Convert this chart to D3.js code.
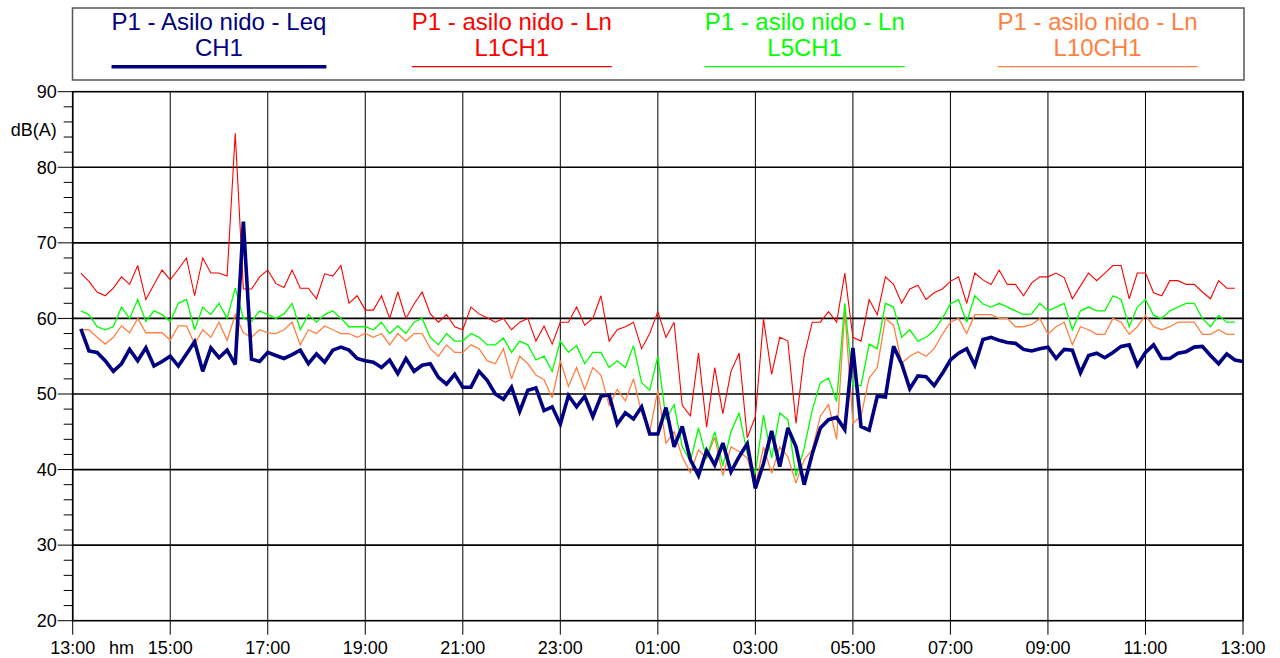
<!DOCTYPE html>
<html>
<head>
<meta charset="utf-8">
<script src="https://cdn.jsdelivr.net/npm/d3@7"></script>
<style>
  html, body { margin: 0; padding: 0; background: #fff; }
  svg { display: block; font-family: "Liberation Sans", Arial, sans-serif; }
</style>
</head>
<body>
<svg id="chart" width="1280" height="658"></svg>
<script>
// ---------- DATA ----------
const times = [
  "13:10","13:20","13:30","13:40","13:50",
  "14:00","14:10","14:20","14:30","14:40","14:50",
  "15:00","15:10","15:20","15:30","15:40","15:50",
  "16:00","16:10","16:20","16:30","16:40","16:50",
  "17:00","17:10","17:20","17:30","17:40","17:50",
  "18:00","18:10","18:20","18:30","18:40","18:50",
  "19:00","19:10","19:20","19:30","19:40","19:50",
  "20:00","20:10","20:20","20:30","20:40","20:50",
  "21:00","21:10","21:20","21:30","21:40","21:50",
  "22:00","22:10","22:20","22:30","22:40","22:50",
  "23:00","23:10","23:20","23:30","23:40","23:50",
  "00:00","00:10","00:20","00:30","00:40","00:50",
  "01:00","01:10","01:20","01:30","01:40","01:50",
  "02:00","02:10","02:20","02:30","02:40","02:50",
  "03:00","03:10","03:20","03:30","03:40","03:50",
  "04:00","04:10","04:20","04:30","04:40","04:50",
  "05:00","05:10","05:20","05:30","05:40","05:50",
  "06:00","06:10","06:20","06:30","06:40","06:50",
  "07:00","07:10","07:20","07:30","07:40","07:50",
  "08:00","08:10","08:20","08:30","08:40","08:50",
  "09:00","09:10","09:20","09:30","09:40","09:50",
  "10:00","10:10","10:20","10:30","10:40","10:50",
  "11:00","11:10","11:20","11:30","11:40","11:50",
  "12:00","12:10","12:20","12:30","12:40","12:50",
  "13:00"
];

const leqCH1 = [
  58.6,55.7,55.5,54.4,53.0,54.0,55.9,54.4,56.1,53.7,54.3,55.0,53.7,55.3,56.9,53.0,56.1,54.8,55.8,53.9,72.8,54.6,54.3,55.5,
  55.1,54.7,55.2,55.8,54.0,55.3,54.2,55.8,56.2,55.8,54.7,54.4,54.2,53.5,54.5,52.7,54.7,53.0,53.8,54.0,52.2,51.3,52.6,50.9,
  50.9,53.0,51.8,50.0,49.3,50.9,47.7,50.5,50.8,47.8,48.3,46.0,49.8,48.3,49.7,47.0,49.7,49.9,46.0,47.5,46.7,48.3,44.7,44.7,48.2,43.0,
  45.7,41.3,39.2,42.5,40.6,43.5,39.7,41.7,43.4,37.5,40.8,45.1,40.4,45.5,43.0,38.0,42.1,
  45.5,46.6,46.9,45.3,56.1,45.7,45.2,49.7,49.6,56.3,54.0,50.7,52.4,52.3,51.1,52.7,54.5,55.4,56.0,53.8,57.2,57.5,57.1,56.8,56.7,55.9,55.7,
  56.0,56.2,54.7,55.9,55.8,52.8,55.1,55.4,54.8,55.5,56.3,56.5,53.8,55.5,56.5,54.7,54.7,55.4,55.6,56.2,56.3,55.1,54.0,55.3,54.5,54.3
];

const lnL1CH1 = [
  66.0,64.9,63.5,63.0,64.0,65.5,64.5,67.0,62.5,64.5,66.4,65.1,66.5,68.0,63.0,68.0,66.0,66.0,65.6,84.5,63.9,63.9,65.5,66.4,
  64.6,64.1,66.4,64.0,64.0,62.6,65.9,65.6,67.0,62.0,63.0,61.1,61.1,63.0,60.0,63.5,60.0,61.9,63.5,60.6,59.5,60.5,58.9,58.5,
  61.5,60.6,60.1,59.5,60.0,58.5,59.5,60.0,57.0,59.0,56.6,59.5,59.5,61.5,59.1,60.0,63.0,57.0,58.5,58.9,59.5,56.0,58.0,60.9,57.5,59.5,
  48.5,47.1,55.4,45.6,53.5,47.4,53.0,55.4,44.2,47.0,59.9,52.6,57.5,57.0,46.1,55.0,59.5,
  59.5,60.9,59.5,66.0,57.5,57.0,62.5,60.5,65.5,64.5,62.0,63.9,64.4,62.5,63.4,63.9,64.9,65.5,62.0,66.0,65.1,64.5,66.4,64.5,64.5,63.0,64.7,
  65.5,65.5,66.0,65.4,62.6,64.3,66.0,65.0,66.0,67.0,67.0,62.6,66.0,66.0,63.4,63.0,65.0,65.0,64.5,64.5,63.5,62.6,65.0,64.0,64.0
];

const lnL5CH1 = [
  61.0,60.5,58.9,58.5,58.9,61.5,60.0,62.5,59.6,61.0,60.5,59.6,62.0,62.5,58.5,61.5,60.5,62.0,60.0,64.0,60.0,59.6,61.0,60.5,
  60.0,60.6,62.0,58.5,60.5,59.5,60.5,61.0,60.0,58.9,58.9,58.9,58.5,59.5,58.0,59.0,58.0,59.5,60.0,57.5,56.5,58.0,57.0,57.0,
  58.0,57.5,56.5,56.5,57.4,55.5,57.0,56.5,54.5,55.0,53.0,57.0,55.5,56.4,54.0,55.5,55.5,53.5,54.4,53.5,56.4,51.5,50.5,55.0,46.6,48.6,
  43.0,41.1,45.5,41.5,45.0,40.5,45.0,47.5,42.1,39.5,47.2,41.5,47.5,46.6,39.1,42.8,47.9,
  51.5,52.1,49.0,62.0,51.1,51.1,56.6,56.0,62.0,61.5,57.5,58.5,57.0,57.5,58.4,60.0,61.9,62.5,59.5,63.0,61.9,61.5,62.0,61.5,61.0,60.5,60.6,
  62.0,61.0,61.5,62.0,58.5,61.0,61.5,61.0,61.0,63.0,62.5,58.9,61.5,62.5,60.4,60.0,61.0,61.5,62.0,62.0,60.0,58.9,60.4,59.5,59.5
];

const lnL10CH1 = [
  58.5,58.5,57.5,56.6,57.5,59.0,58.1,60.0,58.1,58.1,58.1,57.1,59.0,59.0,56.6,58.5,57.5,59.5,57.1,60.5,58.1,57.5,58.5,58.1,
  58.0,58.5,59.5,56.5,58.5,58.0,59.0,58.5,58.0,58.0,57.5,58.0,57.5,58.0,56.5,58.0,57.0,58.0,58.0,56.0,55.0,56.5,55.5,55.5,
  56.5,56.0,54.4,54.0,56.0,52.0,55.0,54.0,52.5,51.9,49.5,54.4,51.0,53.5,50.6,53.5,52.5,48.5,50.6,49.1,52.0,47.5,45.0,50.5,43.5,45.0,
  41.7,39.6,42.6,41.5,44.3,39.2,43.0,42.4,41.5,37.8,43.0,39.5,43.0,41.7,38.2,41.3,42.6,
  47.1,48.6,44.0,61.1,46.1,47.1,52.1,53.5,60.0,59.1,54.1,55.0,55.6,55.0,56.0,57.9,59.5,60.0,58.0,60.5,60.5,60.5,60.0,60.0,58.9,58.9,59.2,
  60.0,57.9,58.9,59.5,56.5,58.9,58.5,57.9,57.9,60.0,59.5,57.9,58.9,60.4,58.9,58.5,58.9,59.5,59.5,59.5,57.9,57.9,58.5,57.9,57.9
];

const seriesNames = [
  ["P1 - Asilo nido - Leq", "CH1"],
  ["P1 - asilo nido - Ln", "L1CH1"],
  ["P1 - asilo nido - Ln", "L5CH1"],
  ["P1 - asilo nido - Ln", "L10CH1"]
];
const seriesValues = [leqCH1, lnL1CH1, lnL5CH1, lnL10CH1];
const seriesColors = ["#000080", "#ff0000", "#00ff00", "#ff8040"];
const seriesWidths = [3.6, 1.1, 1.3, 1.3];

const xTickLabels = ["13:00","15:00","17:00","19:00","21:00","23:00","01:00","03:00","05:00","07:00","09:00","11:00","13:00"];
const xUnitLabel = "hm";
const yTickValues = [20, 30, 40, 50, 60, 70, 80, 90];
const yUnitLabel = "dB(A)";

// ---------- LAYOUT ----------
const svg = d3.select("#chart");
const plot = { left: 72.7, right: 1243, top: 91.7, bottom: 620.7 };

// parse time labels into successive dates
const dates = [];
{
  let day = 1, prevH = -1;
  times.forEach(t => {
    const [h, m] = t.split(":").map(Number);
    if (h < prevH) day += 1;
    prevH = h;
    dates.push(new Date(2000, 0, day, h, m));
  });
}
const tStart = new Date(2000, 0, 1, 13, 0);
const tEnd = new Date(2000, 0, 2, 13, 0);

const x = d3.scaleTime().domain([tStart, tEnd]).range([plot.left, plot.right]);
const y = d3.scaleLinear().domain([20, 90]).range([plot.bottom, plot.top]);

const xTickDates = xTickLabels.map((lab, i) => d3.timeHour.offset(tStart, i * 2));

// ---------- GRID ----------
const grid = svg.append("g");
grid.selectAll("line.h").data(yTickValues.filter(v => v > 20 && v < 90)).join("line")
  .attr("x1", plot.left).attr("x2", plot.right)
  .attr("y1", d => y(d)).attr("y2", d => y(d))
  .attr("stroke", "#000").attr("stroke-width", 1.7);
grid.selectAll("line.v").data(xTickDates).join("line")
  .attr("x1", d => x(d)).attr("x2", d => x(d))
  .attr("y1", plot.top).attr("y2", plot.bottom + 14)
  .attr("stroke", "#000").attr("stroke-width", 1);

svg.append("rect")
  .attr("x", plot.left).attr("y", plot.top)
  .attr("width", plot.right - plot.left).attr("height", plot.bottom - plot.top)
  .attr("fill", "none").attr("stroke", "#000").attr("stroke-width", 1.6);

// y axis ticks
const yMinor = d3.range(20, 90.1, 2);
svg.append("g").selectAll("line").data(yMinor).join("line")
  .attr("x1", d => plot.left - (d % 10 === 0 ? 15 : 9)).attr("x2", plot.left)
  .attr("y1", d => y(d)).attr("y2", d => y(d))
  .attr("stroke", "#000").attr("stroke-width", 1);

svg.append("g").selectAll("text").data(yTickValues).join("text")
  .attr("x", plot.left - 16).attr("y", d => y(d))
  .attr("dy", "0.35em")
  .attr("text-anchor", "end")
  .attr("font-size", 18).attr("fill", "#000")
  .text(d => d);

svg.append("text")
  .attr("x", plot.left - 16).attr("y", y(85) + 7)
  .attr("text-anchor", "end").attr("font-size", 18).attr("fill", "#000")
  .text(yUnitLabel);

// x axis labels
svg.append("g").selectAll("text").data(xTickDates).join("text")
  .attr("x", d => x(d)).attr("y", 654)
  .attr("text-anchor", "middle").attr("font-size", 18).attr("fill", "#000")
  .text((d, i) => xTickLabels[i]);
svg.append("text")
  .attr("x", x(d3.timeHour.offset(tStart, 1))).attr("y", 654)
  .attr("text-anchor", "middle").attr("font-size", 18).attr("fill", "#000")
  .text(xUnitLabel);

// ---------- LINES ----------
svg.append("clipPath").attr("id", "clip").append("rect")
  .attr("x", plot.left).attr("y", plot.top)
  .attr("width", plot.right - plot.left).attr("height", plot.bottom - plot.top);

const lineGen = d3.line().x(d => x(d[0])).y(d => y(d[1]));
const linesG = svg.append("g").attr("clip-path", "url(#clip)");
[3, 2, 1, 0].forEach(si => {
  const vals = seriesValues[si];
  const pts = vals.map((v, i) => [dates[i], v]);
  linesG.append("path")
    .attr("d", lineGen(pts))
    .attr("fill", "none")
    .attr("stroke", seriesColors[si])
    .attr("stroke-width", seriesWidths[si])
    .attr("stroke-linejoin", "miter")
    .attr("stroke-miterlimit", 3);
});

// ---------- LEGEND ----------
const legend = { left: 72.5, right: 1244, top: 8, bottom: 80 };
svg.append("rect")
  .attr("x", legend.left).attr("y", legend.top)
  .attr("width", legend.right - legend.left).attr("height", legend.bottom - legend.top)
  .attr("fill", "#fff").attr("stroke", "#555").attr("stroke-width", 1.5);

const colW = (legend.right - legend.left) / seriesNames.length;
seriesNames.forEach((names, i) => {
  const cx = legend.left + colW * (i + 0.5);
  const g = svg.append("g");
  const t1 = g.append("text")
    .attr("x", cx).attr("y", 29.5)
    .attr("text-anchor", "middle").attr("font-size", 24)
    .attr("fill", seriesColors[i]).text(names[0]);
  g.append("text")
    .attr("x", cx).attr("y", 56)
    .attr("text-anchor", "middle").attr("font-size", 24)
    .attr("fill", seriesColors[i]).text(names[1]);
  const w = t1.node().getComputedTextLength();
  g.append("line")
    .attr("x1", cx - w / 2).attr("x2", cx + w / 2)
    .attr("y1", 66.7).attr("y2", 66.7)
    .attr("stroke", seriesColors[i])
    .attr("stroke-width", i === 0 ? 3.6 : 1.3);
});
</script>
</body>
</html>
